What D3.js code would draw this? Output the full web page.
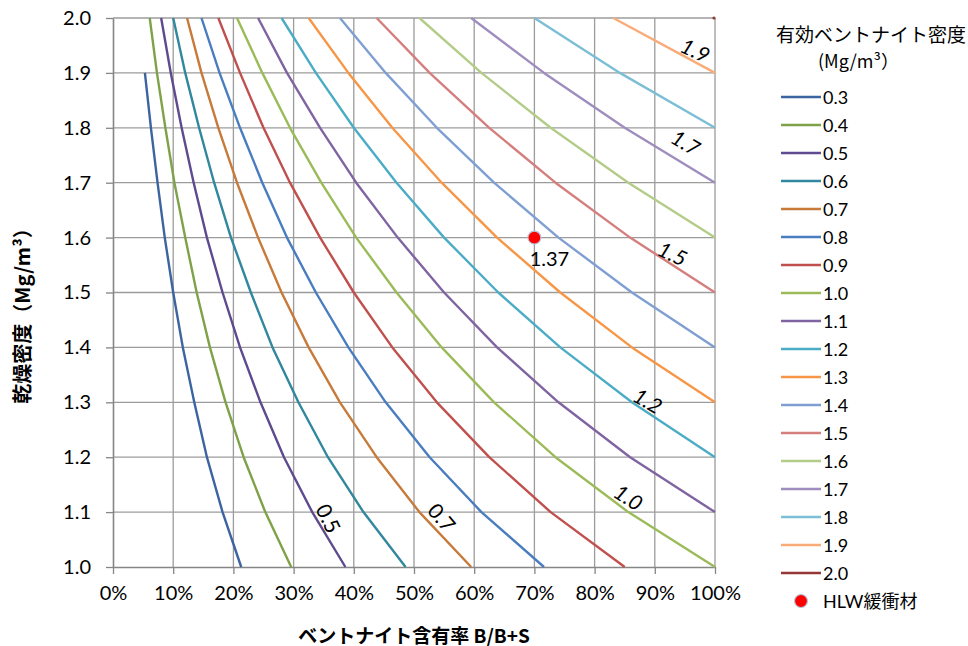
<!DOCTYPE html>
<html>
<head>
<meta charset="utf-8">
<script src="https://cdn.jsdelivr.net/npm/d3@7"></script>
<style>
  html, body { margin: 0; padding: 0; background: #fff; }
  svg { display: block; }
  text { font-family: Lato, "Noto Sans CJK JP", sans-serif; fill: #000; }
  .cjk { font-family: "Noto Sans CJK JP", sans-serif; }
</style>
</head>
<body>
<svg id="chart" width="968" height="646"></svg>
<script>
// ---------------- DATA ----------------
const dryDensity = [1.0, 1.1, 1.2, 1.3, 1.4, 1.5, 1.6, 1.7, 1.8, 1.9, 2.0];
const xTickLabels = ["0%","10%","20%","30%","40%","50%","60%","70%","80%","90%","100%"];
const yTickLabels = ["1.0","1.1","1.2","1.3","1.4","1.5","1.6","1.7","1.8","1.9","2.0"];
const seriesNames = ["0.3","0.4","0.5","0.6","0.7","0.8","0.9","1.0","1.1","1.2","1.3","1.4","1.5","1.6","1.7","1.8","1.9","2.0"];

// bentonite ratio B/(B+S) for each dry density above (null = not plotted)
const ratio03 = [0.213,0.182,0.156,0.135,0.116,0.100,0.086,0.074,0.063,0.053,null];
const ratio04 = [0.296,0.253,0.217,0.187,0.161,0.139,0.120,0.102,0.087,0.073,0.061];
const ratio05 = [0.386,0.331,0.284,0.245,0.211,0.182,0.156,0.134,0.114,0.096,0.080];
const ratio06 = [0.486,0.416,0.357,0.308,0.265,0.229,0.196,0.168,0.143,0.120,0.100];
const ratio07 = [0.595,0.509,0.438,0.377,0.325,0.280,0.241,0.206,0.175,0.147,0.123];
const ratio08 = [0.716,0.612,0.526,0.453,0.391,0.337,0.289,0.248,0.211,0.177,0.147];
const ratio09 = [0.850,0.727,0.625,0.538,0.464,0.400,0.344,0.294,0.250,0.211,0.175];
const ratio10 = [1.000,0.856,0.735,0.633,0.546,0.471,0.404,0.346,0.294,0.248,0.206];
const ratio11 = [null,1.000,0.859,0.740,0.638,0.550,0.473,0.404,0.344,0.289,0.241];
const ratio12 = [null,null,1.000,0.862,0.743,0.640,0.550,0.471,0.400,0.337,0.280];
const ratio13 = [null,null,null,1.000,0.862,0.743,0.638,0.546,0.464,0.391,0.325];
const ratio14 = [null,null,null,null,1.000,0.862,0.740,0.633,0.538,0.453,0.377];
const ratio15 = [null,null,null,null,null,1.000,0.859,0.735,0.625,0.526,0.438];
const ratio16 = [null,null,null,null,null,null,1.000,0.856,0.727,0.612,0.509];
const ratio17 = [null,null,null,null,null,null,null,1.000,0.850,0.716,0.595];
const ratio18 = [null,null,null,null,null,null,null,null,1.000,0.842,0.700];
const ratio19 = [null,null,null,null,null,null,null,null,null,1.000,0.831];
const ratio20 = [null,null,null,null,null,null,null,null,null,null,1.000];

// HLW buffer material point
const hlwRatio = [0.70];
const hlwDensity = [1.60];
const hlwLabel = ["1.37"];

// curve labels (text, ratio, dry density)
const curveLabelText = ["0.5","0.7","1.0","1.2","1.5","1.7","1.9"];
const curveLabelRatio = [0.359,0.547,0.857,0.889,0.930,0.952,0.968];
const curveLabelDensity = [1.089,1.091,1.128,1.304,1.572,1.774,1.942];

// ---------------- STYLE ----------------
const colors = ["#3B64A0","#7FA248","#5E4A8E","#31879E","#C77A3A","#4A7DC0","#C0504D","#9BBB59",
                "#8064A2","#4BACC6","#F79646","#7F9FD3","#D47F7E","#B3CC88","#9E8DBE","#7BBED5","#F9AC78","#953735"];
const labelAngles = [64, 50, 33, 30, 25, 30, 25];
const labelItalic = [false,false,true,true,true,true,true];

const ratios = [ratio03,ratio04,ratio05,ratio06,ratio07,ratio08,ratio09,ratio10,ratio11,ratio12,
                ratio13,ratio14,ratio15,ratio16,ratio17,ratio18,ratio19,ratio20];
const series = seriesNames.map((name, i) => ({
  name, color: colors[i],
  points: dryDensity.map((d, j) => ({d, r: ratios[i][j]})).filter(p => p.r !== null)
}));

// ---------------- LAYOUT ----------------
const svg = d3.select("#chart");
const pLeft = 113, pRight = 715, pTop = 18, pBottom = 567;
const x = d3.scaleLinear().domain([0, 1]).range([pLeft, pRight]);
const y = d3.scaleLinear().domain([1.0, 2.0]).range([pBottom, pTop]);
const xTicks = d3.range(0, 11).map(i => i / 10);
const yTicks = d3.range(0, 11).map(i => 1 + i / 10);

// gridlines
const grid = svg.append("g");
grid.selectAll(".vg").data(xTicks.slice(1)).join("line")
  .attr("x1", d => x(d)).attr("x2", d => x(d)).attr("y1", pTop).attr("y2", pBottom)
  .attr("stroke", "#9c9c9c").attr("stroke-width", 1.3);
grid.selectAll(".hg").data(yTicks.slice(1)).join("line")
  .attr("x1", pLeft).attr("x2", pRight).attr("y1", d => y(d)).attr("y2", d => y(d))
  .attr("stroke", "#9c9c9c").attr("stroke-width", 1.3);

// axes
const xAxis = d3.axisBottom(x).tickValues(xTicks).tickFormat((d, i) => xTickLabels[i])
  .tickSizeInner(7).tickSizeOuter(0).tickPadding(12);
const yAxis = d3.axisLeft(y).tickValues(yTicks).tickFormat((d, i) => yTickLabels[i])
  .tickSizeInner(7).tickSizeOuter(0).tickPadding(15);
const gx = svg.append("g").attr("transform", `translate(0,${pBottom})`).call(xAxis);
const gy = svg.append("g").attr("transform", `translate(${pLeft},0)`).call(yAxis);
[gx, gy].forEach(g => {
  g.select(".domain").attr("stroke", "#868686").attr("stroke-width", 1.6);
  g.selectAll(".tick line").attr("stroke", "#868686").attr("stroke-width", 1.3);
  g.selectAll(".tick text").attr("font-family", "Lato, sans-serif").attr("font-size", 20).attr("fill", "#000");
});
gx.selectAll(".tick text").attr("dy", "0.68em");

// curves
const line = d3.line().x(p => x(p.r)).y(p => y(p.d));
svg.append("g").selectAll("path").data(series.filter(s => s.points.length > 1)).join("path")
  .attr("d", s => line(s.points)).attr("fill", "none")
  .attr("stroke", s => s.color).attr("stroke-width", 2.4).attr("stroke-linejoin", "round");
// single-point series
svg.append("g").selectAll("circle").data(series.filter(s => s.points.length === 1)).join("circle")
  .attr("cx", s => x(s.points[0].r) - 1).attr("cy", s => y(s.points[0].d))
  .attr("r", 1.6).attr("fill", s => s.color);

// curve labels
svg.append("g").selectAll("text").data(curveLabelText).join("text")
  .attr("transform", (t, i) => `translate(${x(curveLabelRatio[i])},${y(curveLabelDensity[i])}) rotate(${labelAngles[i]})`)
  .attr("text-anchor", "middle").attr("dominant-baseline", "central")
  .attr("font-size", 21).attr("font-style", (t, i) => labelItalic[i] ? "italic" : "normal")
  .text(t => t);

// HLW point
svg.append("g").selectAll("circle").data(hlwRatio).join("circle")
  .attr("cx", (r) => x(r)).attr("cy", (r, i) => y(hlwDensity[i])).attr("r", 6.5)
  .attr("fill", "#FF0000").attr("stroke", "#B8C7DD").attr("stroke-width", 1.2);
svg.append("g").selectAll("text").data(hlwLabel).join("text")
  .attr("x", (t, i) => x(hlwRatio[i]) + 15).attr("y", (t, i) => y(hlwDensity[i]) + 20)
  .attr("text-anchor", "middle").attr("dominant-baseline", "central")
  .attr("font-size", 20).text(t => t);

// axis titles
svg.append("text").attr("class", "cjk")
  .attr("x", 414).attr("y", 634).attr("text-anchor", "middle").attr("dominant-baseline", "central")
  .attr("font-size", 19).attr("font-weight", "bold")
  .text("ベントナイト含有率 B/B+S");
svg.append("text").attr("class", "cjk")
  .attr("transform", "translate(21,311) rotate(-90)").attr("text-anchor", "middle").attr("dominant-baseline", "central")
  .attr("font-size", 20).attr("font-weight", "bold")
  .text("乾燥密度（Mg/m³）");

// legend
const lg = svg.append("g");
lg.append("text").attr("class", "cjk").attr("x", 776).attr("y", 33).attr("dominant-baseline", "central")
  .attr("font-size", 19).text("有効ベントナイト密度");
lg.append("text").attr("class", "cjk").attr("x", 818).attr("y", 60).attr("dominant-baseline", "central")
  .attr("font-size", 18).text("(Mg/m³）");
const items = lg.selectAll(".item").data(series).join("g")
  .attr("transform", (s, i) => `translate(0,${97 + i * 28})`);
items.append("line").attr("x1", 781).attr("x2", 821).attr("y1", 0).attr("y2", 0)
  .attr("stroke", s => s.color).attr("stroke-width", 2.6);
items.append("text").attr("x", 823).attr("y", 0).attr("dominant-baseline", "central")
  .attr("font-size", 18).text(s => s.name);
const hlwItem = lg.append("g").attr("transform", `translate(0,${97 + series.length * 28})`);
hlwItem.append("circle").attr("cx", 801).attr("cy", 0).attr("r", 6.5)
  .attr("fill", "#FF0000").attr("stroke", "#B8C7DD").attr("stroke-width", 1.2);
hlwItem.append("text").attr("x", 823).attr("y", 0).attr("dominant-baseline", "central")
  .attr("font-size", 18).text("HLW緩衝材");
</script>
</body>
</html>
